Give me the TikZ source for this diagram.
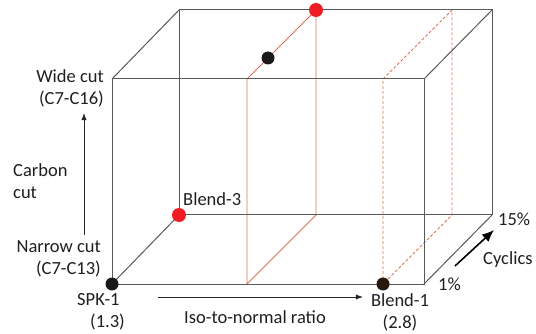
\documentclass[tikz,border=0pt]{standalone}
\usepackage{fontspec}
\setmainfont{Carlito}
\usetikzlibrary{arrows.meta,positioning}
\definecolor{cutred}{RGB}{212,118,88}
\definecolor{dotred}{RGB}{238,28,36}
\tikzset{
  edge/.style={draw=black!65, line width=1pt},
  cutplane/.style={draw=cutred, line width=0.8pt},
  cutdash/.style={cutplane, dashed, dash pattern=on 3pt off 2pt},
  reddot/.style={circle, fill=dotred, inner sep=0pt, minimum size=14pt},
  blackdot/.style={circle, fill=black!90, inner sep=0pt, minimum size=13pt},
  axis/.style={-Latex, line width=0.9pt, black!85},
  note/.style={font=\fontsize{18.5}{22}\selectfont, inner sep=0pt, text=black!88}
}
\begin{document}
\begin{tikzpicture}[x=1pt,y=-1pt]
  \useasboundingbox (0,0) rectangle (536,334);
  % box corners
  \coordinate (fbl) at (112,284); \coordinate (fbr) at (424,284);
  \coordinate (ftl) at (112,79);  \coordinate (ftr) at (424,79);
  \coordinate (bbl) at (179,215); \coordinate (bbr) at (492,215);
  \coordinate (btl) at (179,10);  \coordinate (btr) at (492,10);
  % planes
  \coordinate (pfb) at (247,284); \coordinate (pft) at (247,79);
  \coordinate (pbb) at (316,215); \coordinate (pbt) at (316,10);
  \coordinate (dfb) at (383,284); \coordinate (dft) at (383,79);
  \coordinate (dbb) at (452,215); \coordinate (dbt) at (452,10);
  \draw[cutplane] (pfb) -- (pft) -- (pbt) -- (pbb) -- cycle;
  \draw[cutdash] (dfb) -- (dft) -- (dbt) -- (dbb) -- cycle;
  \draw[edge] (btl) -- (btr) -- (bbr) -- (bbl) -- cycle;
  \draw[edge] (ftl) -- (ftr) -- (fbr) -- (fbl) -- cycle;
  \foreach \a/\b in {fbl/bbl,fbr/bbr,ftl/btl,ftr/btr}{\draw[edge] (\a) -- (\b);}
  % points
  \node[blackdot] (spk) at (fbl) {};
  \node[blackdot, fill=black!80!brown] (blendone) at (dfb) {};
  \node[reddot] (blendthree) at (bbl) {};
  \node[reddot] (topred) at (pbt) {};
  \node[blackdot] (midblack) at (268,58) {};
  % labels
  \node[note, align=right, anchor=east] (wide) at (104,88) {Wide cut\\(C7-C16)};
  \node[note, align=left, anchor=west] (carbon) at (13,181) {Carbon\\cut};
  \node[note, align=right, anchor=east] (narrow) at (101,259) {Narrow cut\\(C7-C13)};
  \node[note, align=left, anchor=north west] (spklab) at (77,293) {SPK-1\\\hspace*{13pt}(1.3)};
  \node[note, align=center, anchor=north] (blendonelab) at (400,293) {Blend-1\\(2.8)};
  \node[note, anchor=south west] (blendthreelab) at (183,206) {Blend-3};
  \node[note, anchor=center] (isolab) at (255,317) {Iso-to-normal ratio};
  \node[note, anchor=west] (fifteen) at (498,219) {15\%};
  \node[note, anchor=west] (cyclics) at (483,260) {Cyclics};
  \node[note, anchor=west] (one) at (438,284) {1\%};
  % axis arrows
  \coordinate (cbot) at (84,235); \coordinate (ctop) at (84,113);
  \draw[axis] (cbot) -- (ctop);
  \coordinate (ileft) at (158,297); \coordinate (iright) at (363,297);
  \draw[axis] (ileft) -- (iright);
  \coordinate (ybot) at (455,266); \coordinate (ytop) at (494,230);
  \draw[-{Latex[length=12pt,width=10pt]}, line width=1.6pt] (ybot) -- (ytop);
\end{tikzpicture}
\end{document}
